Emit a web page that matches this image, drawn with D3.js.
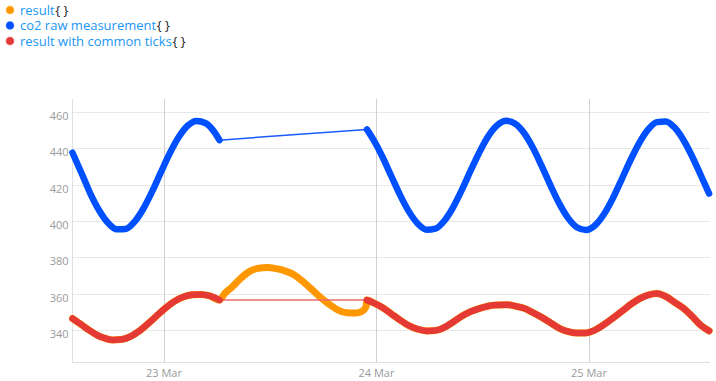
<!DOCTYPE html>
<html lang="en">
<head>
<meta charset="UTF-8">
<title>co2 result</title>
<script src="https://d3js.org/d3.v7.min.js"></script>
<style>
  body { margin: 0; background: #fff; }
  svg { display: block; font-family: "Open Sans", sans-serif; }
</style>
</head>
<body>
<div id="chart"></div>
<script>
// time axis: hours counted from the first sample
const startTime = new Date(2023, 2, 22, 13, 40);
const endTime = new Date(2023, 2, 25, 13, 40);

const yTicks = [340, 360, 380, 400, 420, 440, 460];

// co2 raw measurement, [hour, value], two runs with a gap between them
const co2Before = [[0, 437.5], [1, 426.5], [2, 415.2], [3, 405.9], [4, 399.0], [5, 395.4], [6, 395.6],
  [7, 399.5], [8, 406.7], [9, 416.2], [10, 426.9], [11, 437.3], [12, 446.1], [13, 452.3], [14, 454.9],
  [15, 453.8], [16, 449.0], [16.6, 444.4]];
const co2After = [[33.25, 450.3], [34, 444.5], [35, 435.3], [36, 424.7], [37, 414.2], [38, 405.1],
  [39, 398.5], [40, 395.2], [41, 395.8], [42, 400.1], [43, 407.6], [44, 417.3], [45, 428.0], [46, 438.2],
  [47, 446.9], [48, 452.7], [49, 455.0], [50, 453.4], [51, 448.3], [52, 440.2], [53, 430.1], [54, 419.4],
  [55, 409.4], [56, 401.4], [57, 396.4], [58, 395.0], [59, 397.5], [60, 403.5], [61, 412.2], [62, 422.6],
  [63, 433.2], [64, 442.8], [65, 450.2], [66, 454.3], [67, 454.7], [68, 451.3], [69, 444.5], [70, 435.3],
  [71, 424.7], [71.9, 415.0]];

// result with common ticks
const commonBefore = [[0, 346.4], [1, 343.0], [2, 339.6], [2.8, 337.2], [3.5, 335.8], [4.5, 334.6], [5.5, 334.8],
  [6.5, 336.4], [7.5, 339.4], [8.5, 343.4], [9.5, 347.8], [10.5, 352.2], [11.5, 355.8], [12.5, 358.2],
  [13.5, 359.4], [14.5, 359.6], [15.5, 358.8], [16.6, 356.5]];
const commonAfter = [[33.25, 356.5], [34, 355.0], [35, 352.5], [36, 349.0], [37, 345.5], [38, 342.5],
  [39, 340.5], [40, 339.6], [41, 339.8], [42, 341.5], [43, 344.5], [44, 347.8], [45, 350.3], [46, 352.0],
  [47, 353.3], [48, 353.8], [49, 354.0], [50, 353.2], [51, 352.0], [52, 349.6], [53, 347.0], [54, 344.0],
  [55, 341.0], [56, 339.2], [57, 338.4], [58, 338.5], [59, 340.0], [60, 343.0], [61, 346.5], [62, 350.2],
  [63, 354.0], [64, 357.2], [65, 359.3], [66, 360.2], [67, 358.5], [68, 355.3], [69, 352.0], [70, 347.5],
  [71, 342.5], [71.9, 339.6]];

// result: same as above except where the other series have no data
const resultGap = [[17.2, 360.2], [18, 363.6], [19, 368.5], [20, 372.3], [21, 374.0], [22, 374.4],
  [23, 373.8], [24, 372.6], [25, 370.5], [26, 366.8], [27, 362.5], [28, 358.0], [29, 354.2], [30, 351.0],
  [31, 349.5], [32, 349.4], [32.7, 350.4], [33.15, 352.8]];
const result = commonBefore.concat(resultGap, commonAfter);

const legendItems = [
  { name: "result", color: "#ff9800" },
  { name: "co2 raw measurement", color: "#0050ff" },
  { name: "result with common ticks", color: "#e53935" }
];

const width = 716, height = 381;
const toDate = h => new Date(startTime.getTime() + h * 3600e3);

const x = d3.scaleTime().domain([startTime, endTime]).range([72.5, 710]);
const y = d3.scaleLinear().domain([322.5, 467]).range([362, 99]);

const svg = d3.select("#chart").append("svg")
  .attr("width", width)
  .attr("height", height);

svg.append("rect").attr("width", width).attr("height", height).attr("fill", "#fff");

// grid
const grid = svg.append("g");
grid.selectAll("line.h")
  .data(yTicks)
  .join("line")
  .attr("class", "h")
  .attr("x1", 72).attr("x2", 710)
  .attr("y1", d => Math.round(y(d)) + 0.5)
  .attr("y2", d => Math.round(y(d)) + 0.5)
  .attr("stroke", "#e8e8e8");

const days = x.ticks(d3.timeDay.every(1));
grid.selectAll("line.v")
  .data(days)
  .join("line")
  .attr("class", "v")
  .attr("x1", d => Math.round(x(d)) + 0.5)
  .attr("x2", d => Math.round(x(d)) + 0.5)
  .attr("y1", 99).attr("y2", 362)
  .attr("stroke", "#d0d0d0");

// axis lines
grid.append("line").attr("x1", 72.5).attr("x2", 72.5).attr("y1", 99).attr("y2", 362).attr("stroke", "#e0e0e0");
grid.append("line").attr("x1", 72).attr("x2", 710).attr("y1", 362.5).attr("y2", 362.5).attr("stroke", "#e0e0e0");

// tick labels
svg.append("g").selectAll("text")
  .data(yTicks)
  .join("text")
  .attr("x", 68.5)
  .attr("y", d => y(d) + 8)
  .attr("text-anchor", "end")
  .attr("font-size", 11)
  .attr("fill", "#9a9a9a")
  .text(d => d);

const fmt = d3.timeFormat("%-d %b");
svg.append("g").selectAll("text")
  .data(days)
  .join("text")
  .attr("x", d => x(d))
  .attr("y", 377)
  .attr("text-anchor", "middle")
  .attr("font-size", 11)
  .attr("fill", "#9a9a9a")
  .text(d => fmt(d));

// series
const line = d3.line()
  .x(d => x(toDate(d[0])))
  .y(d => y(d[1]))
  .curve(d3.curveMonotoneX);

function drawSeries(segments, color, bandWidth, gapColor) {
  const g = svg.append("g");
  // thin connectors across missing data
  for (let i = 0; i < segments.length - 1; i++) {
    const a = segments[i][segments[i].length - 1];
    const b = segments[i + 1][0];
    g.append("path")
      .attr("d", d3.line().x(d => x(toDate(d[0]))).y(d => y(d[1]))([a, b]))
      .attr("fill", "none")
      .attr("stroke", gapColor)
      .attr("stroke-width", 1.5);
  }
  segments.forEach(seg => {
    g.append("path")
      .attr("d", line(seg))
      .attr("fill", "none")
      .attr("stroke", color)
      .attr("stroke-width", bandWidth)
      .attr("stroke-linecap", "round")
      .attr("stroke-linejoin", "round");
  });
}

drawSeries([result], "#ff9800", 7, "#ff9800");
drawSeries([co2Before, co2After], "#0050ff", 6.5, "#1a5cff");
drawSeries([commonBefore, commonAfter], "#e53935", 6.5, "#ec6a67");

// legend
const legend = svg.append("g");
legendItems.forEach((item, i) => {
  const by = 14.5 + i * 15.5;
  legend.append("circle")
    .attr("cx", 10).attr("cy", by - 4.5).attr("r", 3.8)
    .attr("fill", item.color)
    .attr("stroke", item.color).attr("stroke-opacity", 0.45).attr("stroke-width", 1.2);
  const label = legend.append("text")
    .attr("x", 20).attr("y", by)
    .attr("font-size", 13)
    .attr("fill", "#2196f3")
    .text(item.name);
  const w = label.node().getComputedTextLength();
  legend.append("text")
    .attr("x", 20 + w + 0.5).attr("y", by)
    .attr("font-size", 13)
    .attr("fill", "#222")
    .text("{ }");
});
</script>
</body>
</html>
